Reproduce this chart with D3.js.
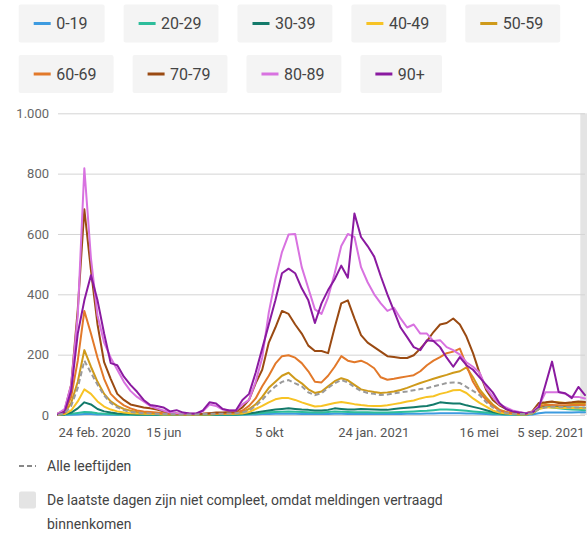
<!DOCTYPE html>
<html><head><meta charset="utf-8">
<script src="https://cdn.jsdelivr.net/npm/d3@7"></script>
<style>
html,body{margin:0;padding:0;background:#fff;}
svg{display:block;font-family:Roboto,"Noto Sans",sans-serif;}
</style></head><body>
<svg id="chart" width="587" height="534"></svg>
<script>
// ---------- data ----------
const startDate = "2020-02-24";           // first weekly point
const ageGroups = ["0-19","20-29","30-39","40-49","50-59","60-69","70-79","80-89","90+"];
const colors = ["#3d9be0","#2dbd9b","#137a6a","#f7c325","#cf9a1a","#e2792a","#9a4a12","#d872e0","#8a1aa0"];

const s0 = [0,1,1,2,3,3,2,2,1,1, 1,1,1,1,1,1,1,1,1,1, 1,1,1,1,1,1,1,1,1,2,
  2,3,3,4,4,4,4,3,3,3, 3,3,4,4,3,3,3,3,3,3, 3,3,3,4,4,4,5,5,6,6, 6,6,5,5,4,3,2,2,1,1, 1,1,2,6,8,8,8,8,8,9,9];
const s20 = [1,2,4,7,10,9,6,4,3,2, 2,1,1,1,1,1,1,1,1,1, 1,1,1,1,1,1,1,1,2,3,
  5,7,9,10,11,12,11,10,9,8, 8,10,12,11,10,9,9,9,8,8, 8,9,10,11,12,13,14,16,18,18, 17,16,14,12,10,8,5,3,2,2, 1,2,5,25,28,25,22,20,18,17,16];
const s30 = [1,2,8,22,42,35,20,12,8,5, 4,3,2,2,2,2,2,1,1,1, 1,1,1,1,2,2,2,2,3,5,
  8,12,15,18,20,22,20,18,17,15, 15,17,22,20,18,18,20,19,18,17, 17,20,22,24,26,28,30,35,42,40, 38,38,32,27,22,16,10,6,4,3, 2,2,4,20,33,30,27,26,25,24,23];
const s40 = [1,3,15,45,85,70,45,28,18,12, 8,6,5,4,3,3,2,2,2,2, 2,2,2,2,3,3,3,4,5,10,
  20,30,42,52,56,56,50,42,35,28, 30,35,40,43,40,36,33,31,30,30, 32,36,40,45,48,55,60,62,70,75, 82,83,73,55,40,28,15,8,5,3, 2,2,5,20,25,25,24,23,23,22,22];
const s50 = [2,6,40,110,215,160,110,70,45,30, 20,14,10,8,6,5,4,3,3,2, 2,2,3,3,4,4,5,6,10,20,
  35,60,90,110,130,140,120,105,85,73, 78,95,112,122,115,100,85,80,76,73, 75,78,83,90,98,106,113,120,127,133, 140,145,158,125,85,58,35,18,10,6, 5,5,10,35,40,43,42,40,40,40,40];
const s60 = [3,10,60,180,345,270,190,120,70,48, 32,22,15,12,10,8,6,4,4,3, 3,3,4,5,6,6,7,8,15,30,
  55,95,130,170,195,198,190,172,145,110, 108,130,160,195,180,175,180,170,155,125, 117,120,124,128,132,145,165,180,192,205, 210,220,165,110,75,50,30,15,10,6, 5,5,10,28,33,33,32,32,33,33,33];
const s70 = [5,15,100,350,682,480,300,175,120,70, 50,35,30,25,22,18,12,8,5,4, 3,3,4,6,8,8,10,12,25,50,
  105,150,240,290,345,335,300,270,230,212, 212,205,290,370,380,320,265,240,225,210, 195,192,189,189,198,220,245,275,300,305, 320,300,260,205,139,83,50,32,20,12, 8,6,12,40,42,45,40,40,42,45,43];
const s80 = [5,20,100,330,818,520,330,240,190,150, 110,80,60,45,30,22,15,8,6,5, 4,5,12,35,30,18,15,15,35,50,
  110,190,340,450,540,598,600,490,420,350, 335,390,470,560,600,590,490,440,400,370, 345,355,320,290,300,270,270,245,248,225, 215,200,175,160,140,90,60,35,25,15, 10,6,10,30,75,75,75,70,60,60,55];
const s90 = [2,10,80,270,380,463,380,270,172,165, 127,100,77,50,33,30,25,12,16,8, 5,5,15,42,38,20,15,15,50,70,
  140,220,300,380,470,485,470,420,380,305, 370,414,450,495,455,668,590,560,525,460, 400,345,290,258,225,215,248,245,225,190, 160,192,165,150,125,100,75,40,20,12, 8,5,8,25,100,177,76,72,56,93,66];
const allAges = [1,5,30,90,180,140,100,65,40,25, 16,10,8,6,5,4,3,3,2,2, 2,2,3,4,4,4,5,6,8,15,
  30,50,75,95,110,116,105,95,75,66, 72,90,105,116,108,92,80,73,70,66, 68,72,75,78,82,86,89,95,100,106, 108,106,93,80,66,42,25,12,7,4, 3,3,6,20,25,27,27,26,25,25,25];

const tickDates = ["2020-02-24","2020-06-15","2020-10-05","2021-01-24","2021-05-16","2021-09-05"];
const tickLabels = ["24 feb. 2020","15 jun","5 okt","24 jan. 2021","16 mei","5 sep. 2021"];
const yTicks = [0,200,400,600,800,1000];
const yTickLabels = ["0","200","400","600","800","1.000"];
const incompleteFrom = "2021-09-01";
const allLabel = "Alle leeftijden";
const noteText = ["De laatste dagen zijn niet compleet, omdat meldingen vertraagd","binnenkomen"];

// ---------- chart ----------
const series = [s0,s20,s30,s40,s50,s60,s70,s80,s90];
const svg = d3.select("#chart");
const parse = d3.utcParse("%Y-%m-%d");
const t0 = parse(startDate);
const dates = allAges.map((_, i) => d3.utcDay.offset(t0, 7 * i));

const pLeft = 58, pRight = 585, pTop = 113.3, pBottom = 415;
const x = d3.scaleUtc().domain([dates[0], dates[dates.length - 1]]).range([pLeft, pRight]);
const y = d3.scaleLinear().domain([0, 1000]).range([pBottom, pTop]);

// incomplete strip
svg.append("rect")
  .attr("x", x(parse(incompleteFrom))).attr("y", pTop)
  .attr("width", 587 - x(parse(incompleteFrom))).attr("height", pBottom - pTop)
  .attr("fill", "#e4e4e4");

// y axis + gridlines
const yAxis = svg.append("g").attr("transform", `translate(${pLeft},0)`)
  .call(d3.axisLeft(y).tickValues(yTicks).tickFormat((d, i) => yTickLabels[i])
    .tickSizeInner(-(pRight - pLeft)).tickSizeOuter(0).tickPadding(9));
yAxis.select(".domain").remove();
yAxis.selectAll(".tick line").attr("stroke", "#d4d4d4");
yAxis.selectAll(".tick text").attr("fill", "#666").style("font-size", "13px")
  .style("font-family", "Roboto, sans-serif");

// x axis
const xAxis = svg.append("g").attr("transform", `translate(0,${pBottom})`)
  .call(d3.axisBottom(x).tickValues(tickDates.map(parse)).tickFormat((d, i) => tickLabels[i])
    .tickSize(0).tickPadding(13));
xAxis.select(".domain").remove();
xAxis.selectAll(".tick text").attr("fill", "#555").style("font-size", "13px")
  .style("font-family", "Roboto, sans-serif")
  .attr("text-anchor", (d, i) => i === 0 ? "start" : (i === tickDates.length - 1 ? "end" : "middle"));

// lines
const line = d3.line().x((d, i) => x(dates[i])).y(d => y(d));
const gLines = svg.append("g");
series.forEach((s, k) => {
  gLines.append("path").datum(s).attr("d", line)
    .attr("fill", "none").attr("stroke", colors[k]).attr("stroke-width", 2)
    .attr("stroke-linejoin", "round").attr("stroke-linecap", "round");
});
gLines.append("path").datum(allAges).attr("d", line)
  .attr("fill", "none").attr("stroke", "#9a9a9a").attr("stroke-width", 2)
  .attr("stroke-dasharray", "5,3");

// top legend
const rows = [ageGroups.slice(0, 5), ageGroups.slice(5)];
const rowY = [4.5, 55];
const boxH = 38, gap = 19;
rows.forEach((row, r) => {
  let cx = 18.7;
  row.forEach(name => {
    const k = ageGroups.indexOf(name);
    const g = svg.append("g").attr("transform", `translate(${cx},${rowY[r]})`);
    const rect = g.append("rect").attr("height", boxH).attr("rx", 2).attr("fill", "#f4f4f4");
    g.append("line").attr("x1", 15).attr("x2", 32).attr("y1", boxH / 2).attr("y2", boxH / 2)
      .attr("stroke", colors[k]).attr("stroke-width", 3);
    const txt = g.append("text").attr("x", 37.5).attr("y", boxH / 2).attr("dy", "0.36em")
      .attr("fill", "#444").style("font-size", "16px").text(name);
    const w = 37.5 + txt.node().getComputedTextLength() + 17;
    rect.attr("width", w);
    cx += w + gap;
  });
});

// bottom legend
svg.append("line").attr("x1", 19).attr("x2", 36).attr("y1", 466).attr("y2", 466)
  .attr("stroke", "#888").attr("stroke-width", 2).attr("stroke-dasharray", "5,3");
svg.append("text").attr("x", 47).attr("y", 466).attr("dy", "0.36em").attr("fill", "#444")
  .style("font-size", "14px").text(allLabel);
svg.append("rect").attr("x", 19).attr("y", 491.5).attr("width", 17).attr("height", 17)
  .attr("rx", 2).attr("fill", "#e4e4e4");
noteText.forEach((t, i) => {
  svg.append("text").attr("x", 47).attr("y", 500 + i * 24).attr("dy", "0.36em").attr("fill", "#444")
    .style("font-size", "14px").text(t);
});
</script>
</body></html>
